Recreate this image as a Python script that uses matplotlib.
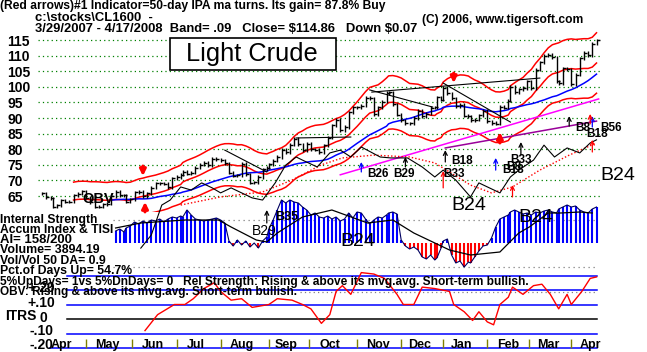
import numpy as np
import pandas as pd
import matplotlib
matplotlib.use("Agg")
import matplotlib.pyplot as plt
from matplotlib.patches import Rectangle

plt.rcParams['font.family'] = ['Liberation Sans', 'DejaVu Sans']

# ---------------- data ----------------
start_day = '2007-03-29'
holidays = ['2007-04-06', '2007-05-28', '2007-07-04', '2007-09-03', '2007-11-22',
            '2007-12-25', '2008-01-01', '2008-01-21', '2008-02-18', '2008-03-21']

# closes every 2nd weekday, 3/30/2007 .. 4/17/2008
closes = [65.9,
          64.6, 64.3, 61.5, 62.0, 63.6, 63.1, 63.1, 65.3, 65.8, 66.5,
          64.4, 63.0, 61.5, 61.6, 62.4, 62.5, 64.9, 66.3, 65.3, 65.2, 63.2, 64.0,
          66.2, 66.3, 65.0, 65.9, 67.6, 69.1, 69.1, 68.9, 67.8, 70.7,
          71.1, 71.8, 72.8, 72.2, 72.5, 74.1, 75.0, 75.6, 74.9, 77.0, 76.8,
          76.5, 75.5, 72.4, 71.5, 71.6, 75.4, 71.9, 69.3, 69.4, 71.1, 73.5, 74.0,
          75.1, 76.3, 77.5, 79.9, 79.1, 81.5, 83.3, 81.6, 79.6, 81.7,
          80.0, 79.9, 79.0, 81.3, 83.7, 87.6, 89.5, 86.0, 87.1, 91.9, 93.5,
          93.5, 93.9, 96.4, 96.3, 91.2, 93.4, 95.2, 98.0, 98.2, 94.4, 91.0,
          89.3, 88.3, 88.3, 90.0, 92.3, 90.6, 91.4, 93.3, 93.5, 96.6, 95.9,
          99.6, 97.9, 96.3, 93.7, 94.2, 90.8, 90.6, 89.2, 89.4, 90.9, 92.3,
          88.9, 88.4, 88.1, 93.6, 93.3, 95.5, 100.0, 98.2, 99.2, 99.6, 101.8,
          99.5, 105.5, 107.9, 109.9, 110.2, 109.4, 101.8, 101.2, 105.9, 105.6,
          100.9, 103.9, 109.1, 110.9, 110.1, 113.8, 114.86]

# accumulation index (same dates, from 5/21/2007)
ai_vals = [0.12, 0.14, 0.11, 0.15, 0.17,
           0.21, 0.19, 0.22, 0.20, 0.23, 0.22, 0.24, 0.21, 0.24, 0.26,
           0.25, 0.27, 0.26, 0.33, 0.28, 0.24, 0.23, 0.22, 0.23, 0.24, 0.25,
           0.23, 0.20, 0.02, -0.03, 0.03, -0.02, 0.02, -0.04, 0.00, -0.05, 0.02, 0.06,
           0.14, 0.23, 0.33, 0.43, 0.40, 0.43, 0.41, 0.40, 0.36, 0.33,
           0.28, 0.30, 0.26, 0.25, 0.27, 0.24, 0.26, 0.22, 0.24, 0.30, 0.25,
           0.31, 0.30, 0.24, 0.19, 0.23, 0.26, 0.25, 0.28, 0.30, 0.31, 0.29,
           0.03, -0.03, -0.06, -0.04, -0.07, -0.14, -0.16, -0.12, -0.17, -0.15, -0.05,
           0.02, 0.04, -0.12, -0.20, -0.18, -0.24, -0.19, -0.20, -0.14, -0.08, -0.03,
           -0.02, 0.05, 0.16, 0.24, 0.26, 0.28, 0.31, 0.33, 0.31, 0.29, 0.30,
           0.28, 0.31, 0.30, 0.32, 0.33, 0.31, 0.30, 0.34, 0.36, 0.38,
           0.36, 0.37, 0.33, 0.31, 0.30, 0.34, 0.36]

ai_ma_dates = ['2007-05-19', '2007-06-07', '2007-07-07', '2007-07-31', '2007-08-08',
               '2007-08-24', '2007-08-31', '2007-09-10', '2007-09-26', '2007-10-16',
               '2007-11-08', '2007-11-27', '2007-12-11', '2007-12-25', '2008-01-07',
               '2008-01-22', '2008-02-09', '2008-02-23', '2008-03-02', '2008-03-14',
               '2008-03-25', '2008-04-06', '2008-04-15']
ai_ma_vals = [0.15, 0.20, 0.23, 0.23, 0.16, 0.03, 0.01, 0.10, 0.26, 0.33, 0.20, 0.23,
              0.10, 0.00, -0.07, -0.12, -0.09, 0.10, 0.16, 0.30, 0.30, 0.31, 0.30]

itrs_dates = ['2007-06-11', '2007-06-19', '2007-06-29', '2007-07-09', '2007-07-13',
              '2007-07-20', '2007-07-27', '2007-08-01', '2007-08-08', '2007-08-15',
              '2007-08-22', '2007-09-04', '2007-09-10', '2007-09-19', '2007-09-26',
              '2007-10-02', '2007-10-09', '2007-10-15', '2007-10-18', '2007-10-23',
              '2007-10-29', '2007-11-05', '2007-11-13', '2007-11-20', '2007-11-29',
              '2007-12-04', '2007-12-11', '2007-12-17', '2007-12-26', '2008-01-07',
              '2008-01-09', '2008-01-16', '2008-01-23', '2008-01-28', '2008-02-01',
              '2008-02-06', '2008-02-11', '2008-02-15', '2008-02-20', '2008-02-27',
              '2008-03-05', '2008-03-11', '2008-03-17', '2008-03-21', '2008-03-28',
              '2008-04-01', '2008-04-08', '2008-04-14', '2008-04-17']
itrs_vals = [-0.08, 0.03, 0.10, 0.10, 0.14, 0.21, 0.25, 0.19, 0.13, 0.14,
             0.08, 0.10, 0.14, 0.13, 0.10, 0.07, -0.03, 0.03, 0.19, 0.23,
             0.17, 0.32, 0.31, 0.28, 0.17, 0.10, 0.10, 0.22, 0.21, 0.19,
             0.10, 0.05, -0.01, 0.05, -0.02, -0.04, 0.10, 0.15, 0.22, 0.17,
             0.23, 0.24, 0.17, 0.07, 0.17, 0.10, 0.19, 0.28, 0.29]

# OBV, drawn on the price scale
obv_dates = ['2007-06-07', '2007-06-14', '2007-06-21', '2007-06-27', '2007-07-05',
             '2007-07-12', '2007-07-19', '2007-07-26', '2007-08-01', '2007-08-08',
             '2007-08-15', '2007-08-22', '2007-08-29', '2007-09-07', '2007-09-14',
             '2007-09-21', '2007-09-26', '2007-10-05', '2007-10-15', '2007-10-22',
             '2007-10-29', '2007-11-05', '2007-11-16', '2007-11-26', '2007-12-06',
             '2007-12-17', '2007-12-26', '2008-01-02', '2008-01-10', '2008-01-21',
             '2008-01-28', '2008-02-04', '2008-02-11', '2008-02-18', '2008-02-25',
             '2008-03-05', '2008-03-12', '2008-03-19', '2008-03-28', '2008-04-07',
             '2008-04-14', '2008-04-17']
obv_vals = [48.3, 52.5, 62.1, 63.7, 67.9, 66.9, 69.2, 67.6, 66.0, 67.6,
            66.0, 64.4, 63.7, 69.2, 74.9, 77.5, 76.5, 74.3, 78.8, 79.7,
            77.5, 80.7, 77.5, 77.2, 77.2, 74.3, 71.1, 73.3, 70.1, 64.7,
            69.2, 67.6, 66.0, 71.1, 73.3, 76.5, 81.3, 77.5, 80.4, 78.8,
            82.0, 83.0]

obv_ma_dates = ['2007-07-05', '2007-08-01', '2007-08-29', '2007-09-19', '2007-10-09',
                '2007-10-23', '2007-11-13', '2007-12-07', '2007-12-26', '2008-01-07',
                '2008-01-22', '2008-02-05', '2008-02-20', '2008-03-10', '2008-03-31',
                '2008-04-17']
obv_ma_vals = [62.1, 64.7, 66.3, 70.1, 75.0, 77.2, 78.1, 77.5, 75.6, 72.7,
               68.5, 66.0, 67.9, 73.3, 78.1, 82.0]

# trend lines (start date, start price, end date, end price)
black_lines = [('2007-08-03', 79.7, '2007-08-31', 72.7),
               ('2007-09-21', 83.6, '2007-10-29', 83.9),
               ('2007-11-11', 98.3, '2008-03-10', 102.8),
               ('2008-01-02', 101.2, '2008-02-16', 88.7),
               ('2007-11-09', 99.0, '2007-12-23', 93.5)]
magenta_line = ('2007-10-20', 71.8, '2008-04-18', 96.1)
purple_line = ('2008-01-03', 80.4, '2008-04-17', 89.0)

# signal arrows on the price panel (date, tail, head, colour)
big_arrows = [('2007-06-08', 74.6, 71.4), ('2007-06-11', 59.9, 63.1),
              ('2008-01-09', 104.4, 101.2), ('2008-02-11', 82.0, 85.5)]
thin_arrows = [('2007-11-05', 72.7, 75.9, 'blue'), ('2007-12-05', 74.3, 77.5, 'black'),
               ('2008-01-03', 75.9, 79.7, 'black'), ('2008-01-02', 67.6, 73.0, 'red'),
               ('2008-02-07', 73.3, 77.2, 'blue'), ('2008-02-26', 78.1, 82.3, 'black'),
               ('2008-02-20', 64.7, 68.5, 'red'), ('2008-03-31', 87.4, 90.6, 'black'),
               ('2008-04-15', 87.1, 90.6, 'blue'), ('2008-04-14', 88.1, 91.3, 'red'),
               ('2008-04-15', 79.1, 83.0, 'red')]
small_tags = [('B26', '2007-11-08', 72.1), ('B29', '2007-11-27', 72.1),
              ('B33', '2008-01-02', 72.1), ('B18', '2008-01-08', 76.2),
              ('B33', '2008-02-17', 76.5), ('B18', '2008-02-12', 73.4),
              ('B8', '2008-02-14', 74.3), ('B8', '2008-04-03', 86.8),
              ('B18', '2008-04-10', 84.9), ('B56', '2008-04-20', 86.8)]
big_tags = [('B24', '2008-04-20', 71.7), ('B24', '2008-01-08', 61.8)]
ai_tags = [('B29', '2007-08-22', 0.12, 10, 'normal'), ('B35', '2007-09-07', 0.26, 9, 'bold'),
           ('B24', '2007-10-22', 0.02, 14, 'normal'), ('B24', '2008-02-25', 0.26, 14, 'normal')]

months = ['Apr', 'May', 'Jun', 'Jul', 'Aug', 'Sep', 'Oct', 'Nov', 'Dec', 'Jan', 'Feb', 'Mar', 'Apr']
month_mid = ['2007-04-13', '2007-05-15', '2007-06-15', '2007-07-16', '2007-08-15',
             '2007-09-14', '2007-10-15', '2007-11-15', '2007-12-14', '2008-01-15',
             '2008-02-15', '2008-03-14', '2008-04-14']
month_start = ['2007-05-01', '2007-06-01', '2007-07-01', '2007-08-01', '2007-09-01',
               '2007-10-01', '2007-11-01', '2007-12-01', '2008-01-01', '2008-02-01',
               '2008-03-01', '2008-04-01']
price_levels = [115, 110, 105, 100, 95, 90, 85, 80, 75, 70, 65]


def d(s):
    """trading-day position of a date (holidays removed)"""
    return np.busday_count(start_day, np.asarray(s, dtype='datetime64[D]'),
                           holidays=holidays)


# ---------------- figure ----------------
W, H = 647, 352
PXD = 2.1          # pixels per trading day
fig = plt.figure(figsize=(W / 100, H / 100), dpi=100)
fig.patch.set_facecolor('white')


def px_axes(x0, y0, x1, y1, z):
    ax = fig.add_axes([x0 / W, 1 - y1 / H, (x1 - x0) / W, (y1 - y0) / H], zorder=z)
    ax.set_axis_off()
    ax.patch.set_visible(False)
    ax.set_xlim(-(40 - x0) / PXD, (x1 - 40) / PXD)
    return ax


dates = pd.bdate_range(end='2008-04-17', periods=len(closes), freq='2B')
xd = d(dates.values.astype('datetime64[D]'))
c = np.array(closes)

# ---- ITRS panel ----
ax_it = px_axes(38, 270, 600, 352, 1)
ax_it.set_ylim(-(352 - 319) / 145, (319 - 270) / 145)
x_a, x_b = (67 - 38) / 562, (597 - 38) / 562
for lv in [0.3, 0.2, 0.1, -0.1]:
    ax_it.axhline(lv, x_a, x_b, color='#0000ff', lw=1.1)
ax_it.axhline(-0.2, (50 - 38) / 562, x_b, color='#0000ff', lw=1.1)
ax_it.axhline(0, x_a, x_b, color='black', lw=1.1)
ax_it.axhline(0.186, (300 - 38) / 562, x_b, color='#808080', lw=0.9, ls=(0, (1, 2.5)))
ax_it.plot(d(itrs_dates), itrs_vals, color='#ff0000', lw=1.0)
ax_it.vlines(d(month_start), -0.135, -0.2, color='#808000', lw=1)

# ---- accumulation index panel ----
ax_ai = px_axes(38, 195, 600, 282, 2)
ax_ai.set_ylim(-(282 - 243) / 100, (243 - 195) / 100)
ai_x = xd[-len(ai_vals):]
ai = np.array(ai_vals)
ax_ai.axhline(0.23, (113 - 38) / 562, x_b, color='#808080', lw=0.9, ls=(0, (1, 3)))
ax_ai.axhline(-0.24, (113 - 38) / 562, x_b, color='#808080', lw=0.9, ls=(0, (1, 3)))
ax_ai.vlines(ai_x[ai >= 0], 0, ai[ai >= 0], color='#0000ff', lw=1.5)
ax_ai.vlines(ai_x[ai < 0], 0, ai[ai < 0], color='#ff0000', lw=1.5)
ax_ai.plot(ai_x, ai, color='#000060', lw=0.8)
ax_ai.plot(d(ai_ma_dates), ai_ma_vals, color='black', lw=0.9)
ax_ai.annotate('', xy=(d('2007-08-31'), 0.33), xytext=(d('2007-08-31'), 0.20),
               arrowprops=dict(arrowstyle='->', color='black', lw=0.9,
                               shrinkA=0, shrinkB=0, mutation_scale=7))
for t, s, v, fs, fw in ai_tags:
    ax_ai.text(d(s), v, t, ha='left', va='center', fontsize=fs, fontweight=fw)

# ---- price panel ----
ax_p = px_axes(38, 30, 600, 212, 3)
ax_p.set_ylim(115 - (212 - 40) / 3.12, 115 + (40 - 30) / 3.12)
for lv in price_levels:
    ax_p.axhline(lv, 0, 1, color='#008000', lw=0.9, ls=(0, (1, 2.5)))

s = pd.Series(c)
ma21 = s.rolling(10, min_periods=9).mean()
ma50 = s.rolling(25, min_periods=18).mean()
ax_p.plot(xd, ma21 * 1.09, color='#ff0000', lw=1.1)
ax_p.plot(xd, ma21, color='#ff0000', lw=1.1)
ax_p.plot(xd, ma21 * 0.91, color='#ff0000', lw=1.1)
ax_p.plot(xd, ma50, color='#0000ff', lw=1.1)
for (s0, p0, s1, p1), col in [(magenta_line, '#ff00ff'), (purple_line, '#990099')]:
    ax_p.plot(d([s0, s1]), [p0, p1], color=col, lw=1.1)
for s0, p0, s1, p1 in black_lines:
    ax_p.plot(d([s0, s1]), [p0, p1], color='black', lw=0.8)
ax_p.plot(d(obv_ma_dates), obv_ma_vals, color='#ff0000', lw=1.0, ls=(0, (1, 1.5)))
ax_p.plot(d(obv_dates), obv_vals, color='black', lw=0.8, clip_on=False)

prev = np.concatenate([[c[0]], c[:-1]])
lo = np.minimum(prev, c) - 0.5
hi = np.maximum(prev, c) + 0.5
ax_p.vlines(xd, lo, hi, color='black', lw=1.0)
ax_p.plot(xd, c, ls='none', marker=1, ms=2.5, mew=1.0, color='black')

for s0, tail, head in big_arrows:
    ax_p.annotate('', xy=(d(s0), head), xytext=(d(s0), tail), annotation_clip=False,
                  arrowprops=dict(arrowstyle='-|>', color='#ff0000', lw=2.2,
                                  shrinkA=0, shrinkB=0, mutation_scale=9))
for s0, tail, head, col in thin_arrows:
    ax_p.annotate('', xy=(d(s0), head), xytext=(d(s0), tail),
                  arrowprops=dict(arrowstyle='->', color=col, lw=0.9,
                                  shrinkA=0, shrinkB=0, mutation_scale=7))
for t, s0, p in small_tags:
    ax_p.text(d(s0), p, t, ha='left', va='center', fontsize=8.5, fontweight='bold')
for t, s0, p in big_tags:
    ax_p.text(d(s0), p, t, ha='left', va='center', fontsize=14)

# ---- fixed texts ----
ax_t = fig.add_axes([0, 0, 1, 1], zorder=5)
ax_t.set_axis_off()
ax_t.patch.set_visible(False)
ax_t.set_xlim(0, W)
ax_t.set_ylim(H, 0)
rend = fig.canvas.get_renderer()
narrow = ['DejaVu Sans Condensed', 'Liberation Sans', 'DejaVu Sans']


def put(x, y, txt, width=None, size=8.5, weight='bold', ha='left', family=narrow, ax=ax_t):
    t = ax.text(x, y, txt, ha=ha, va='center', fontsize=size, fontweight=weight,
                family=family)
    if width:
        bb = t.get_window_extent(rend)
        t.set_fontsize(size * width / bb.width)
    return t


for m, s0 in zip(months, month_mid):
    put(d(s0), -0.18, m, size=9, ha='center', ax=ax_it)
put(d('2007-04-27'), 64.0, 'OBV', size=10.5, ax=ax_p)

for lv in price_levels:
    put(7, 40 + (115 - lv) * 3.12 + 1.5, str(lv), size=10)

put(0, 5.5, '(Red arrows)#1 Indicator=50-day IPA ma turns. Its gain= 87.8% Buy', 383)
put(35, 18, 'c:\\stocks\\CL1600  -', 118)
put(35, 29, '3/29/2007 - 4/17/2008  Band= .09   Close= \\$114.86   Down \\$0.07', 382)
put(422, 20, '(C) 2006, www.tigersoft.com', 160)

ax_t.add_patch(Rectangle((170, 38), 166, 32, facecolor='white', edgecolor='black', lw=1.2))
put(252, 54, 'Light Crude', 131, size=18, weight='normal', ha='center',
    family='Liberation Sans')

left_block = [('Internal Strength', 97), ('Accum Index & TISI', 113), ('AI= 158/200', 72),
              ('Volume= 3894.19', 99), ('Vol/Vol 50 DA= 0.9', 106),
              ('Pct.of Days Up= 54.7%', 131)]
for i, (txt, w) in enumerate(left_block):
    put(0, 219.5 + i * 10.3, txt, w)
put(0, 282, '5%UpDays= 1vs 5%DnDays= 0   Rel Strength: Rising & above its mvg.avg. '
    'Short-term bullish.', 528)
put(0, 291.5, 'OBV: Rising & above its mvg.avg. Short-term bullish.', 295)

put(5, 316, 'ITRS', size=10)
put(55, 288, '+.20', size=10, ha='right')
put(55, 303, '+.10', size=10, ha='right')
put(47, 318, '0', size=10, ha='right')
put(53, 331, '-.10', size=10, ha='right')
put(53, 345, '-.20', size=10, ha='right')

fig.savefig('out.png', dpi=100, facecolor='white')
